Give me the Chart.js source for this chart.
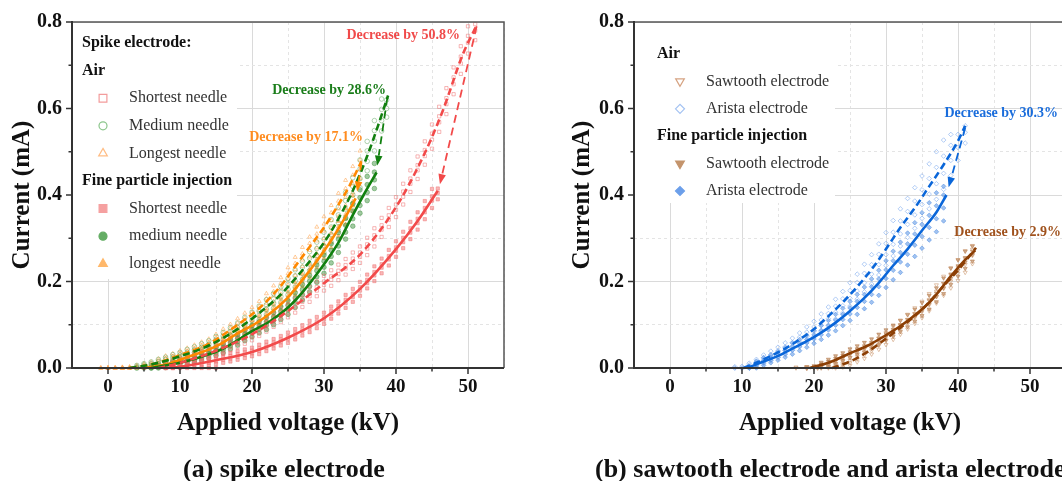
<!DOCTYPE html>
<html>
<head>
<meta charset="utf-8">
<script src="https://cdn.jsdelivr.net/npm/chart.js@4.4.1/dist/chart.umd.min.js"></script>
<style>
  html, body { margin: 0; padding: 0; background: #fff; overflow: hidden; }
  body { width: 1062px; height: 481px; position: relative; }
  #spike { position: absolute; left: 0; top: 0; }
  #sawtooth { position: absolute; left: 540px; top: 0; }
</style>
</head>
<body>
<canvas id="spike" width="520" height="481"></canvas>
<canvas id="sawtooth" width="540" height="481"></canvas>
<script>
// measured readings: each row is [voltage kV, current mA, current mA, ...]
const shortAirPts = [
  [8, 0, 0.003, 0.006, 0.01], [9, 0, 0.005, 0.01, 0.015], [10, 0.003, 0.009, 0.015, 0.021],
  [11, 0.007, 0.014, 0.02, 0.026], [12, 0.012, 0.018, 0.025, 0.032], [13, 0.017, 0.024, 0.031, 0.038],
  [14, 0.022, 0.03, 0.037, 0.045], [15, 0.028, 0.036, 0.044, 0.052], [16, 0.034, 0.043, 0.051, 0.06],
  [17, 0.041, 0.05, 0.058, 0.067], [18, 0.049, 0.058, 0.066, 0.075], [19, 0.056, 0.066, 0.074, 0.084],
  [20, 0.064, 0.074, 0.082, 0.092], [21, 0.074, 0.084, 0.092, 0.102], [22, 0.084, 0.095, 0.103, 0.114],
  [23, 0.095, 0.106, 0.114, 0.125], [24, 0.106, 0.117, 0.125, 0.136], [25, 0.117, 0.128, 0.136, 0.147],
  [26, 0.128, 0.14, 0.148, 0.16], [27, 0.141, 0.153, 0.161, 0.173], [28, 0.153, 0.166, 0.174, 0.187],
  [29, 0.166, 0.179, 0.187, 0.2], [30, 0.179, 0.192, 0.2, 0.213], [31, 0.19, 0.204, 0.212, 0.226],
  [32, 0.203, 0.217, 0.225, 0.239], [33, 0.216, 0.23, 0.238, 0.252], [34, 0.229, 0.243, 0.253, 0.267],
  [35, 0.243, 0.257, 0.267, 0.281], [36, 0.261, 0.276, 0.286, 0.301], [37, 0.281, 0.297, 0.307, 0.323],
  [38, 0.303, 0.32, 0.33, 0.347], [39, 0.326, 0.343, 0.353, 0.37], [40, 0.349, 0.366, 0.378, 0.395],
  [41, 0.378, 0.396, 0.408, 0.426], [42, 0.407, 0.426, 0.438, 0.457], [43, 0.437, 0.457, 0.469, 0.489],
  [44, 0.47, 0.49, 0.504, 0.524], [45, 0.507, 0.528, 0.542, 0.563], [46, 0.546, 0.568, 0.582, 0.604],
  [47, 0.587, 0.61, 0.624, 0.647], [48, 0.633, 0.656, 0.672, 0.695], [49, 0.68, 0.704, 0.72, 0.744],
  [50, 0.727, 0.752, 0.768, 0.79], [51, 0.758, 0.78, 0.795]
];
const shortFinePts = [
  [8, 0, 0, 0.003], [9, 0, 0, 0.004, 0.007], [10, 0, 0.002, 0.006, 0.01], [11, 0, 0.004, 0.009, 0.014],
  [12, 0, 0.006, 0.012, 0.018], [13, 0, 0.003, 0.009, 0.015, 0.021], [14, 0, 0.006, 0.012, 0.018, 0.024],
  [15, 0, 0.009, 0.015, 0.021, 0.027], [16, 0.012, 0.019, 0.025, 0.032], [17, 0.015, 0.022, 0.028, 0.035],
  [18, 0.019, 0.026, 0.032, 0.039], [19, 0.023, 0.03, 0.036, 0.043], [20, 0.027, 0.034, 0.04, 0.047],
  [21, 0.032, 0.04, 0.046, 0.054], [22, 0.039, 0.047, 0.053, 0.061], [23, 0.045, 0.053, 0.059, 0.067],
  [24, 0.052, 0.06, 0.066, 0.074], [25, 0.058, 0.067, 0.073, 0.082], [26, 0.066, 0.075, 0.081, 0.09],
  [27, 0.075, 0.084, 0.09, 0.099], [28, 0.083, 0.093, 0.099, 0.109], [29, 0.092, 0.102, 0.108, 0.118],
  [30, 0.102, 0.112, 0.118, 0.128], [31, 0.114, 0.124, 0.132, 0.142], [32, 0.126, 0.136, 0.144, 0.154],
  [33, 0.139, 0.15, 0.158, 0.169], [34, 0.153, 0.164, 0.172, 0.183], [35, 0.167, 0.179, 0.187, 0.199],
  [36, 0.184, 0.196, 0.204, 0.216], [37, 0.201, 0.214, 0.222, 0.235], [38, 0.219, 0.232, 0.24, 0.253],
  [39, 0.237, 0.251, 0.259, 0.273], [40, 0.257, 0.271, 0.279, 0.293], [41, 0.277, 0.291, 0.301, 0.315],
  [42, 0.298, 0.313, 0.323, 0.338], [43, 0.32, 0.335, 0.345, 0.36], [44, 0.344, 0.36, 0.37, 0.386],
  [45, 0.37, 0.387, 0.397, 0.414], [45.8, 0.39, 0.405, 0.415]
];
const mediumAirPts = [
  [4, 0, 0, 0.003, 0.006], [5, 0, 0.003, 0.007, 0.01], [6, 0.002, 0.006, 0.01, 0.014],
  [7, 0.005, 0.01, 0.015, 0.02], [8, 0.009, 0.014, 0.02, 0.025], [9, 0.013, 0.019, 0.025, 0.031],
  [10, 0.018, 0.024, 0.03, 0.036], [11, 0.023, 0.03, 0.036, 0.043], [12, 0.029, 0.036, 0.042, 0.049],
  [13, 0.034, 0.042, 0.048, 0.056], [14, 0.041, 0.049, 0.055, 0.063], [15, 0.049, 0.057, 0.065, 0.073],
  [16, 0.058, 0.066, 0.074, 0.082], [17, 0.067, 0.076, 0.084, 0.093], [18, 0.076, 0.086, 0.094, 0.104],
  [19, 0.087, 0.098, 0.106, 0.117], [20, 0.099, 0.11, 0.118, 0.129], [21, 0.111, 0.122, 0.132, 0.143],
  [22, 0.124, 0.136, 0.146, 0.158], [23, 0.138, 0.15, 0.16, 0.172], [24, 0.152, 0.165, 0.175, 0.188],
  [25, 0.169, 0.182, 0.194, 0.207], [26, 0.187, 0.201, 0.213, 0.227], [27, 0.205, 0.219, 0.233, 0.247],
  [28, 0.225, 0.24, 0.254, 0.269], [29, 0.245, 0.26, 0.276, 0.291], [30, 0.266, 0.282, 0.298, 0.314],
  [31, 0.291, 0.308, 0.326, 0.343], [32, 0.318, 0.336, 0.354, 0.372], [33, 0.348, 0.367, 0.387, 0.406],
  [34, 0.38, 0.4, 0.42, 0.44], [35, 0.417, 0.438, 0.46, 0.481], [36, 0.456, 0.478, 0.502, 0.524],
  [37, 0.502, 0.525, 0.549, 0.572], [38, 0.548, 0.572, 0.598, 0.622], [38.7, 0.58, 0.6, 0.62]
];
const mediumFinePts = [
  [6, 0, 0, 0.003], [7, 0, 0.002, 0.005, 0.008], [8, 0.001, 0.004, 0.008, 0.011],
  [9, 0.003, 0.007, 0.011, 0.015], [10, 0.005, 0.01, 0.014, 0.019], [11, 0.009, 0.014, 0.018, 0.023],
  [12, 0.013, 0.018, 0.024, 0.029], [13, 0.018, 0.023, 0.029, 0.034], [14, 0.023, 0.029, 0.035, 0.041],
  [15, 0.029, 0.035, 0.041, 0.047], [16, 0.035, 0.042, 0.048, 0.055], [17, 0.044, 0.051, 0.059, 0.066],
  [18, 0.053, 0.061, 0.069, 0.077], [19, 0.063, 0.071, 0.079, 0.087], [20, 0.072, 0.081, 0.089, 0.098],
  [21, 0.081, 0.09, 0.098, 0.107], [22, 0.089, 0.099, 0.107, 0.117], [23, 0.1, 0.11, 0.118, 0.128],
  [24, 0.112, 0.123, 0.131, 0.142], [25, 0.124, 0.135, 0.145, 0.156], [26, 0.14, 0.152, 0.162, 0.174],
  [27, 0.157, 0.169, 0.181, 0.193], [28, 0.176, 0.189, 0.201, 0.214], [29, 0.198, 0.211, 0.225, 0.238],
  [30, 0.219, 0.233, 0.247, 0.261], [31, 0.243, 0.258, 0.272, 0.287], [32, 0.267, 0.282, 0.298, 0.313],
  [33, 0.298, 0.314, 0.33, 0.346], [34, 0.328, 0.345, 0.363, 0.38], [35, 0.358, 0.376, 0.394, 0.412],
  [36, 0.387, 0.406, 0.424, 0.443], [37, 0.415, 0.435, 0.453, 0.473]
];
const longAirPts = [
  [-1, 0, 0, 0], [0, 0, 0, 0], [1, 0, 0, 0], [2, 0, 0, 0.002], [3, 0, 0, 0.003],
  [4, 0, 0.001, 0.003, 0.006], [5, 0, 0.003, 0.007, 0.01], [6, 0.002, 0.006, 0.01, 0.014],
  [7, 0.005, 0.01, 0.016, 0.021], [8, 0.01, 0.016, 0.022, 0.028], [9, 0.015, 0.021, 0.027, 0.033],
  [10, 0.02, 0.027, 0.033, 0.04], [11, 0.026, 0.033, 0.039, 0.046], [12, 0.031, 0.039, 0.045, 0.053],
  [13, 0.038, 0.046, 0.052, 0.06], [14, 0.045, 0.053, 0.059, 0.067], [15, 0.054, 0.062, 0.07, 0.078],
  [16, 0.064, 0.073, 0.081, 0.09], [17, 0.075, 0.084, 0.092, 0.101], [18, 0.086, 0.096, 0.104, 0.114],
  [19, 0.097, 0.108, 0.116, 0.127], [20, 0.11, 0.121, 0.129, 0.14], [21, 0.122, 0.133, 0.143, 0.154],
  [22, 0.138, 0.15, 0.16, 0.172], [23, 0.154, 0.167, 0.177, 0.19], [24, 0.171, 0.184, 0.196, 0.209],
  [25, 0.192, 0.206, 0.218, 0.232], [26, 0.214, 0.228, 0.242, 0.256], [27, 0.235, 0.25, 0.264, 0.279],
  [28, 0.257, 0.272, 0.288, 0.303], [29, 0.278, 0.294, 0.31, 0.326], [30, 0.3, 0.317, 0.333, 0.35],
  [31, 0.324, 0.341, 0.359, 0.376], [32, 0.35, 0.368, 0.386, 0.404], [33, 0.376, 0.395, 0.415, 0.434],
  [34, 0.406, 0.426, 0.446, 0.466], [35, 0.438, 0.459, 0.481, 0.502]
];
const longFinePts = [
  [0, 0, 0, 0], [1, 0, 0], [2, 0, 0, 0], [3, 0, 0], [4, 0, 0, 0.002],
  [5, 0, 0, 0.002, 0.004], [6, 0, 0.001, 0.004, 0.007], [7, 0.001, 0.004, 0.007, 0.01],
  [8, 0.003, 0.006, 0.01, 0.013], [9, 0.007, 0.011, 0.015, 0.019], [10, 0.012, 0.017, 0.021, 0.026],
  [11, 0.018, 0.023, 0.027, 0.032], [12, 0.023, 0.028, 0.034, 0.039], [13, 0.029, 0.034, 0.04, 0.045],
  [14, 0.035, 0.041, 0.045, 0.051], [15, 0.042, 0.048, 0.052, 0.058], [16, 0.051, 0.057, 0.063, 0.069],
  [17, 0.061, 0.067, 0.073, 0.079], [18, 0.07, 0.077, 0.083, 0.09], [19, 0.079, 0.086, 0.092, 0.099],
  [20, 0.087, 0.095, 0.101, 0.109], [21, 0.097, 0.105, 0.111, 0.119], [22, 0.109, 0.118, 0.124, 0.133],
  [23, 0.122, 0.131, 0.137, 0.146], [24, 0.135, 0.144, 0.152, 0.161], [25, 0.15, 0.159, 0.167, 0.176],
  [26, 0.169, 0.179, 0.187, 0.197], [27, 0.189, 0.199, 0.207, 0.217], [28, 0.21, 0.221, 0.229, 0.24],
  [29, 0.232, 0.244, 0.252, 0.264], [30, 0.254, 0.266, 0.274, 0.286], [31, 0.278, 0.29, 0.3, 0.312],
  [32, 0.305, 0.317, 0.327, 0.339], [33, 0.332, 0.345, 0.355, 0.368], [34, 0.362, 0.375, 0.385, 0.398]
];
const sawAirPts = [
  [17.5, 0, 0.002], [19, 0, 0, 0.003], [20.5, 0, 0, 0.004], [22, 0, 0.002, 0.005],
  [23, 0, 0.003, 0.007, 0.01], [24, 0.002, 0.007, 0.011, 0.016], [25, 0.006, 0.012, 0.018, 0.024],
  [26, 0.014, 0.021, 0.027, 0.034], [27, 0.022, 0.03, 0.036, 0.044], [28, 0.032, 0.04, 0.048, 0.056],
  [29, 0.043, 0.052, 0.06, 0.069], [30, 0.054, 0.064, 0.072, 0.082], [31, 0.066, 0.077, 0.085, 0.096],
  [32, 0.078, 0.089, 0.099, 0.11], [33, 0.09, 0.102, 0.112, 0.124], [34, 0.103, 0.116, 0.126, 0.139],
  [35, 0.116, 0.13, 0.14, 0.154], [36, 0.132, 0.146, 0.158, 0.172], [37, 0.15, 0.165, 0.177, 0.192],
  [38, 0.168, 0.184, 0.196, 0.212], [39, 0.185, 0.201, 0.215, 0.231], [40, 0.202, 0.219, 0.233, 0.25],
  [41, 0.221, 0.239, 0.253, 0.271], [42, 0.241, 0.26, 0.274, 0.283]
];
const sawFinePts = [
  [19, 0, 0, 0.003], [20, 0, 0.002, 0.005], [21, 0, 0.004, 0.009, 0.013], [22, 0.004, 0.009, 0.015, 0.02],
  [23, 0.01, 0.016, 0.022, 0.028], [24, 0.017, 0.023, 0.029, 0.035], [25, 0.024, 0.031, 0.037, 0.044],
  [26, 0.031, 0.038, 0.044, 0.051], [27, 0.037, 0.045, 0.051, 0.059], [28, 0.045, 0.053, 0.059, 0.067],
  [29, 0.054, 0.063, 0.069, 0.078], [30, 0.064, 0.073, 0.079, 0.088], [31, 0.073, 0.083, 0.089, 0.099],
  [32, 0.084, 0.094, 0.1, 0.11], [33, 0.095, 0.106, 0.112, 0.123], [34, 0.108, 0.119, 0.125, 0.136],
  [35, 0.121, 0.133, 0.139, 0.151], [36, 0.136, 0.148, 0.156, 0.168], [37, 0.153, 0.165, 0.173, 0.185],
  [38, 0.172, 0.185, 0.195, 0.208], [39, 0.193, 0.207, 0.217, 0.231], [40, 0.212, 0.226, 0.236, 0.25],
  [41, 0.23, 0.245, 0.255, 0.27], [42, 0.247, 0.262, 0.27, 0.282]
];
const aristaAirPts = [
  [9, 0, 0, 0.003], [10, 0, 0, 0.004], [11, 0, 0.003, 0.007, 0.011], [12, 0.004, 0.01, 0.014, 0.02],
  [13, 0.01, 0.017, 0.023, 0.03], [14, 0.017, 0.025, 0.031, 0.039], [15, 0.024, 0.032, 0.04, 0.048],
  [16, 0.032, 0.041, 0.049, 0.058], [17, 0.041, 0.051, 0.059, 0.069], [18, 0.051, 0.061, 0.071, 0.081],
  [19, 0.061, 0.073, 0.083, 0.095], [20, 0.072, 0.085, 0.095, 0.108], [21, 0.085, 0.099, 0.111, 0.125],
  [22, 0.099, 0.114, 0.126, 0.141], [23, 0.113, 0.129, 0.143, 0.159], [24, 0.127, 0.144, 0.16, 0.177],
  [25, 0.143, 0.161, 0.179, 0.197], [26, 0.159, 0.178, 0.198, 0.217], [27, 0.176, 0.197, 0.219, 0.24],
  [28, 0.194, 0.217, 0.239, 0.262], [29, 0.215, 0.239, 0.263, 0.287], [30, 0.237, 0.262, 0.288, 0.313],
  [31, 0.259, 0.286, 0.314, 0.341], [32, 0.282, 0.31, 0.34, 0.368], [33, 0.302, 0.332, 0.362, 0.392],
  [34, 0.323, 0.354, 0.386, 0.417], [35, 0.346, 0.378, 0.412, 0.444], [36, 0.368, 0.402, 0.438, 0.472],
  [37, 0.39, 0.426, 0.464, 0.5], [38, 0.413, 0.45, 0.49, 0.527], [39, 0.445, 0.48, 0.515, 0.54],
  [40, 0.48, 0.51, 0.54], [41, 0.52, 0.545, 0.56]
];
const aristaFinePts = [
  [11, 0, 0, 0.004], [12, 0, 0.005, 0.011, 0.016], [13, 0.006, 0.012, 0.018, 0.024], [14, 0.012, 0.018, 0.024, 0.03],
  [15, 0.018, 0.025, 0.031, 0.038], [16, 0.025, 0.032, 0.04, 0.047], [17, 0.032, 0.041, 0.049, 0.058],
  [18, 0.04, 0.049, 0.057, 0.066], [19, 0.048, 0.058, 0.066, 0.076], [20, 0.057, 0.067, 0.077, 0.087],
  [21, 0.066, 0.077, 0.087, 0.098], [22, 0.076, 0.088, 0.098, 0.11], [23, 0.086, 0.099, 0.111, 0.124],
  [24, 0.098, 0.112, 0.124, 0.138], [25, 0.11, 0.125, 0.139, 0.154], [26, 0.124, 0.14, 0.154, 0.17],
  [27, 0.137, 0.154, 0.17, 0.187], [28, 0.152, 0.17, 0.188, 0.206], [29, 0.168, 0.188, 0.206, 0.226],
  [30, 0.186, 0.207, 0.227, 0.248], [31, 0.204, 0.226, 0.248, 0.27], [32, 0.221, 0.245, 0.267, 0.291],
  [33, 0.238, 0.263, 0.287, 0.312], [34, 0.258, 0.284, 0.31, 0.336], [35, 0.277, 0.304, 0.332, 0.359],
  [36, 0.296, 0.325, 0.353, 0.382], [37, 0.315, 0.345, 0.375, 0.405], [38, 0.34, 0.37, 0.4, 0.42]
];

// fitted curves, [voltage, current]
const shortAirCurve = [[7, 0], [10, 0.012], [15, 0.04], [20, 0.078], [25, 0.132], [30, 0.196], [35, 0.262], [40, 0.372], [43.8, 0.49], [46.5, 0.595], [49.3, 0.726], [51.2, 0.792]];
const shortFineCurve = [[8, 0], [10, 0.003], [15, 0.018], [20, 0.037], [25, 0.07], [30, 0.115], [35, 0.183], [40, 0.275], [43, 0.34], [45.8, 0.41]];
const mediumAirCurve = [[3, 0], [6, 0.008], [10, 0.027], [14, 0.052], [18, 0.09], [21, 0.127], [24, 0.17], [27, 0.226], [30, 0.29], [32, 0.345], [34, 0.41], [36, 0.49], [37.5, 0.56], [38.9, 0.63]];
const mediumFineCurve = [[6, 0], [10, 0.012], [13, 0.026], [16, 0.045], [20, 0.085], [22.5, 0.108], [25, 0.14], [27, 0.175], [29.4, 0.226], [32, 0.29], [33.6, 0.341], [35.5, 0.4], [37.3, 0.452]];
const longAirCurve = [[3, 0], [6, 0.008], [10, 0.03], [14, 0.056], [18, 0.1], [21, 0.138], [24, 0.19], [26, 0.235], [28, 0.28], [30, 0.325], [31.8, 0.372], [33.5, 0.42], [35.2, 0.478]];
const longFineCurve = [[5, 0], [8, 0.008], [11, 0.025], [15, 0.05], [18, 0.08], [21, 0.108], [24.8, 0.16], [28, 0.225], [30.8, 0.29], [33, 0.35], [34.4, 0.392]];
const sawAirCurve = [[22.5, 0], [25, 0.015], [27.5, 0.038], [30, 0.068], [32.5, 0.1], [35, 0.135], [38, 0.19], [40, 0.226], [42.5, 0.278]];
const sawFineCurve = [[19.4, 0], [22, 0.012], [25, 0.034], [27.5, 0.052], [29.6, 0.072], [32, 0.097], [34.3, 0.126], [36.5, 0.16], [38.9, 0.21], [40.7, 0.245], [42.4, 0.272]];
const aristaAirCurve = [[10.2, 0], [12, 0.012], [14, 0.028], [16, 0.045], [18, 0.066], [20, 0.09], [22, 0.12], [24, 0.152], [26, 0.188], [28, 0.228], [30, 0.275], [32, 0.325], [34, 0.37], [36, 0.42], [38, 0.47], [40, 0.525], [41, 0.56]];
const aristaFineCurve = [[10.7, 0], [13, 0.015], [15, 0.028], [17, 0.045], [19, 0.062], [21, 0.082], [23, 0.105], [25, 0.132], [27, 0.162], [29, 0.197], [31, 0.237], [33, 0.275], [35, 0.318], [37, 0.36], [38.4, 0.4]];

// air end -> particle end arrows, and the drop labels
const spikeArrows = [[51.2, 0.79, 46.1, 0.425], [38.8, 0.625, 37.4, 0.468], [35.2, 0.475, 34.6, 0.408]];
const spikeNotes = [['Decrease by 50.8%', 48.9, 0.768], ['Decrease by 28.6%', 38.6, 0.641], ['Decrease by 17.1%', 35.4, 0.533]];
const sawArrows = [[41.0, 0.555, 38.7, 0.418]];
const sawNotes = [['Decrease by 30.3%', 53.9, 0.588], ['Decrease by 2.9%', 54.3, 0.3135]];

const FONT = "'Liberation Serif', 'Times New Roman', Times, serif";
const RED = '#f24a4a', GREEN = '#11800f', ORANGE = '#ff8800', BLUE = '#0a66d9', BROWN = '#8c3f05';

function toPoints(rows) {
    return rows.flatMap(r => r.slice(1).map(y => ({x: r[0], y: y})));
}
function toLine(pairs) {
    return pairs.map(p => ({x: p[0], y: p[1]}));
}
function isMajor(axis, v) {
    return axis === 'x' ? Math.round(v) % 10 === 0 : Math.round(v * 10) % 2 === 0;
}

const markSize = {rect: 5.5, circle: 4, triangle: 5, rectRot: 4.5};

function decorPlugin(setup) {
    return {
        id: 'decor',
        beforeDatasetsDraw(chart) {
            const a = chart.chartArea, ctx = chart.ctx;
            ctx.save();
            ctx.fillStyle = '#fff';
            ctx.fillRect(a.left + 1, a.top + 1, setup.legendBox[0], setup.legendBox[1]);
            ctx.restore();
        },
        afterDatasetsDraw(chart) {
            const ctx = chart.ctx, a = chart.chartArea;
            const xs = chart.scales.x, ys = chart.scales.y;

            setup.arrows.forEach((ar, i) => {
                const x1 = xs.getPixelForValue(ar[0]), y1 = ys.getPixelForValue(ar[1]);
                const x2 = xs.getPixelForValue(ar[2]), y2 = ys.getPixelForValue(ar[3]);
                const ang = Math.atan2(y2 - y1, x2 - x1), head = 10, half = 3.8;
                const bx = x2 - head * Math.cos(ang), by = y2 - head * Math.sin(ang);
                ctx.save();
                ctx.strokeStyle = setup.arrowColors[i];
                ctx.fillStyle = setup.arrowColors[i];
                ctx.lineWidth = 1.8;
                ctx.setLineDash([8, 5]);
                ctx.beginPath();
                ctx.moveTo(x1, y1);
                ctx.lineTo(bx, by);
                ctx.stroke();
                ctx.setLineDash([]);
                ctx.beginPath();
                ctx.moveTo(x2, y2);
                ctx.lineTo(bx + half * Math.sin(ang), by - half * Math.cos(ang));
                ctx.lineTo(bx - half * Math.sin(ang), by + half * Math.cos(ang));
                ctx.closePath();
                ctx.fill();
                ctx.restore();
            });

            ctx.save();
            ctx.font = 'bold 14px ' + FONT;
            ctx.textAlign = 'right';
            ctx.textBaseline = 'middle';
            setup.notes.forEach((n, i) => {
                ctx.fillStyle = setup.noteColors[i];
                ctx.fillText(n[0], xs.getPixelForValue(n[1]), ys.getPixelForValue(n[2]));
            });
            ctx.restore();

            // legend with group headings
            const lg = setup.legend;
            ctx.save();
            ctx.textBaseline = 'middle';
            ctx.textAlign = 'left';
            lg.rows.forEach((row, i) => {
                const y = a.top + lg.top + i * lg.step;
                if (row.head) {
                    ctx.font = 'bold 16px ' + FONT;
                    ctx.fillStyle = '#111';
                    ctx.fillText(row.head, a.left + lg.headX, y);
                    return;
                }
                const s = setup.series[row.series];
                ctx.lineWidth = 1.2;
                ctx.strokeStyle = s.legendColor;
                ctx.fillStyle = s.hollow ? '#fff' : s.legendColor;
                Chart.helpers.drawPoint(ctx, {
                    pointStyle: s.shape, rotation: s.rotation || 0,
                    radius: markSize[s.shape], borderWidth: 1.2
                }, a.left + lg.markX, y);
                ctx.font = '16px ' + FONT;
                ctx.fillStyle = '#333';
                ctx.fillText(row.text, a.left + lg.textX, y);
            });
            ctx.restore();
        },
        afterDraw(chart) {
            const ctx = chart.ctx, a = chart.chartArea;
            const xs = chart.scales.x, ys = chart.scales.y;
            ctx.save();
            // box round the plot
            ctx.strokeStyle = '#555';
            ctx.lineWidth = 1.5;
            ctx.beginPath();
            ctx.moveTo(a.left, a.top);
            ctx.lineTo(a.right, a.top);
            ctx.lineTo(a.right, a.bottom);
            ctx.stroke();
            ctx.strokeStyle = '#333';
            ctx.lineWidth = 2;
            ctx.beginPath();
            ctx.moveTo(a.left, a.top - 1);
            ctx.lineTo(a.left, a.bottom);
            ctx.lineTo(a.right, a.bottom);
            ctx.stroke();
            // outward tick marks, long on labelled ticks
            ctx.lineWidth = 1.5;
            xs.ticks.forEach(t => {
                if (t.value <= xs.min || t.value >= xs.max) return;
                const x = xs.getPixelForValue(t.value);
                ctx.beginPath();
                ctx.moveTo(x, a.bottom);
                ctx.lineTo(x, a.bottom + (isMajor('x', t.value) ? 6 : 3.5));
                ctx.stroke();
            });
            ys.ticks.forEach(t => {
                const y = ys.getPixelForValue(t.value);
                ctx.beginPath();
                ctx.moveTo(a.left, y);
                ctx.lineTo(a.left - (isMajor('y', t.value) ? 6 : 3.5), y);
                ctx.stroke();
            });
            ctx.font = 'bold 26px ' + FONT;
            ctx.fillStyle = '#111';
            ctx.textAlign = 'left';
            ctx.textBaseline = 'middle';
            ctx.fillText(setup.subtitle, setup.subtitleX, 470);
            ctx.restore();
        }
    };
}

function buildChart(canvas, setup) {
    const scatters = [], lines = [];
    setup.series.forEach(s => {
        scatters.push({
            label: s.label + ' readings',
            data: toPoints(s.points),
            pointStyle: s.shape,
            pointRotation: s.rotation || 0,
            pointRadius: 2.3,
            pointBorderWidth: 1,
            borderColor: s.pointColor,
            backgroundColor: s.hollow ? 'rgba(0,0,0,0)' : s.pointColor,
            order: 2,
            clip: false
        });
        lines.push({
            label: s.label,
            data: toLine(s.curve),
            showLine: true,
            pointRadius: 0,
            borderColor: s.lineColor,
            borderWidth: 2.6,
            borderDash: s.hollow ? [7, 4] : [],
            cubicInterpolationMode: 'monotone',
            order: 1,
            clip: false
        });
    });

    const tickFont = {family: FONT, size: 19, weight: 'bold'};
    const titleFont = {family: FONT, size: 25, weight: 'bold'};
    const gridColor = axis => c => (c.tick && !isMajor(axis, c.tick.value)) ? '#e4e4e4' : '#dadada';
    const gridDash = axis => c => (c.tick && !isMajor(axis, c.tick.value)) ? [3, 3] : [];

    const config = {
        type: 'scatter',
        data: {datasets: scatters.concat(lines)},
        options: {
            responsive: false,
            animation: false,
            events: [],
            layout: {padding: {top: 21, right: setup.padRight, left: 0, bottom: 0}},
            plugins: {
                legend: {display: false},
                tooltip: {enabled: false}
            },
            scales: {
                x: {
                    type: 'linear',
                    min: -5,
                    max: 55,
                    afterFit: s => { s.height = 113; },
                    ticks: {
                        stepSize: 5, autoSkip: false, maxRotation: 0, padding: 8,
                        color: '#111', font: tickFont,
                        callback: v => isMajor('x', v) ? v : ''
                    },
                    grid: {drawTicks: false, color: gridColor('x'), lineWidth: 1},
                    border: {display: false, dash: gridDash('x')},
                    title: {
                        display: true, text: 'Applied voltage (kV)', color: '#111',
                        font: titleFont, padding: {top: 0, bottom: 42}
                    }
                },
                y: {
                    min: 0,
                    max: 0.8,
                    afterFit: s => { s.width = setup.axisWidth; },
                    ticks: {
                        stepSize: 0.1, autoSkip: false, padding: 10,
                        color: '#111', font: {family: FONT, size: 20, weight: 'bold'},
                        callback: v => isMajor('y', v) ? v.toFixed(1) : ''
                    },
                    grid: {drawTicks: false, color: gridColor('y'), lineWidth: 1},
                    border: {display: false, dash: gridDash('y')},
                    title: {
                        display: true, text: 'Current (mA)', color: '#111',
                        font: titleFont, padding: {top: setup.titlePad, bottom: 0}
                    }
                }
            }
        },
        plugins: [decorPlugin(setup)]
    };
    return new Chart(canvas, config);
}

const spikeSeries = [
    {label: 'Shortest needle, air', points: shortAirPts, curve: shortAirCurve, shape: 'rect', hollow: true,
     pointColor: 'rgba(240,110,110,0.5)', lineColor: RED, legendColor: '#f39c9c'},
    {label: 'Medium needle, air', points: mediumAirPts, curve: mediumAirCurve, shape: 'circle', hollow: true,
     pointColor: 'rgba(100,170,100,0.5)', lineColor: GREEN, legendColor: '#8cc68c'},
    {label: 'Longest needle, air', points: longAirPts, curve: longAirCurve, shape: 'triangle', hollow: true,
     pointColor: 'rgba(255,170,90,0.6)', lineColor: ORANGE, legendColor: '#ffbd85'},
    {label: 'Shortest needle, particles', points: shortFinePts, curve: shortFineCurve, shape: 'rect', hollow: false,
     pointColor: 'rgba(242,115,115,0.5)', lineColor: RED, legendColor: '#f5a0a0'},
    {label: 'Medium needle, particles', points: mediumFinePts, curve: mediumFineCurve, shape: 'circle', hollow: false,
     pointColor: 'rgba(70,150,70,0.5)', lineColor: GREEN, legendColor: '#64ad64'},
    {label: 'Longest needle, particles', points: longFinePts, curve: longFineCurve, shape: 'triangle', hollow: false,
     pointColor: 'rgba(255,160,70,0.55)', lineColor: ORANGE, legendColor: '#ffb86b'}
];

const sawSeries = [
    {label: 'Sawtooth electrode, air', points: sawAirPts, curve: sawAirCurve, shape: 'triangle', rotation: 180, hollow: true,
     pointColor: 'rgba(205,155,115,0.6)', lineColor: BROWN, legendColor: '#d6a382'},
    {label: 'Arista electrode, air', points: aristaAirPts, curve: aristaAirCurve, shape: 'rectRot', hollow: true,
     pointColor: 'rgba(125,170,238,0.6)', lineColor: BLUE, legendColor: '#a3c2f2'},
    {label: 'Sawtooth electrode, particles', points: sawFinePts, curve: sawFineCurve, shape: 'triangle', rotation: 180, hollow: false,
     pointColor: 'rgba(175,115,65,0.55)', lineColor: BROWN, legendColor: '#c4946c'},
    {label: 'Arista electrode, particles', points: aristaFinePts, curve: aristaFineCurve, shape: 'rectRot', hollow: false,
     pointColor: 'rgba(70,135,225,0.5)', lineColor: BLUE, legendColor: '#6c9fea'}
];

buildChart(document.getElementById('spike'), {
    series: spikeSeries,
    arrows: spikeArrows,
    arrowColors: [RED, GREEN, ORANGE],
    notes: spikeNotes,
    noteColors: ['#f04a4a', '#1a7d1a', '#ff8c1f'],
    padRight: 16,
    axisWidth: 72,
    titlePad: 8,
    legendBox: [164, 256],
    legend: {
        top: 21, step: 27.6, headX: 10, markX: 31, textX: 57,
        rows: [
            {head: 'Spike electrode:'},
            {head: 'Air'},
            {text: 'Shortest needle', series: 0},
            {text: 'Medium needle', series: 1},
            {text: 'Longest needle', series: 2},
            {head: 'Fine particle injection'},
            {text: 'Shortest needle', series: 3},
            {text: 'medium needle', series: 4},
            {text: 'longest needle', series: 5}
        ]
    },
    subtitle: '(a) spike electrode',
    subtitleX: 183
});

buildChart(document.getElementById('sawtooth'), {
    series: sawSeries,
    arrows: sawArrows,
    arrowColors: [BLUE],
    notes: sawNotes,
    noteColors: ['#1a6ddc', '#a0521d'],
    padRight: 14,
    axisWidth: 94,
    titlePad: 28,
    legendBox: [200, 180],
    legend: {
        top: 32, step: 27.4, headX: 23, markX: 46, textX: 72,
        rows: [
            {head: 'Air'},
            {text: 'Sawtooth electrode', series: 0},
            {text: 'Arista electrode', series: 1},
            {head: 'Fine particle injection'},
            {text: 'Sawtooth electrode', series: 2},
            {text: 'Arista electrode', series: 3}
        ]
    },
    subtitle: '(b) sawtooth electrode and arista electrode',
    subtitleX: 55
});
</script>
</body>
</html>
